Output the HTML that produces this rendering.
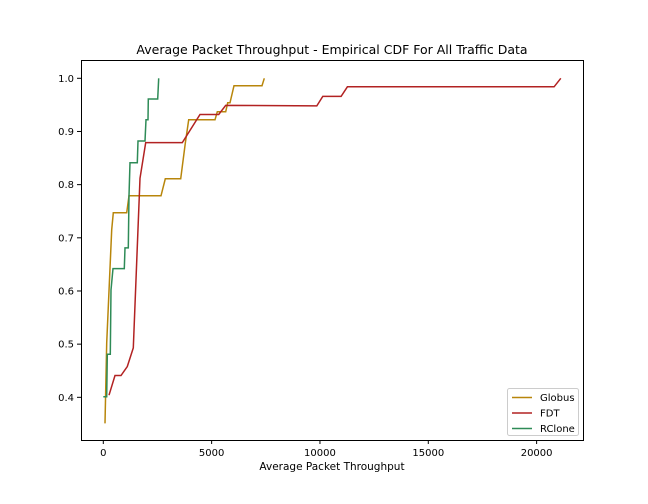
<!DOCTYPE html>
<html><head><meta charset="utf-8"><style>
body{margin:0;background:#fff;}
svg{display:block;font-family:"DejaVu Sans","Liberation Sans",sans-serif;}
</style></head><body>
<svg id="chart" width="648" height="504" viewBox="0 0 648 504"></svg>
<script>
const xTicks=[0,5000,10000,15000,20000];
const yTicks=[0.4,0.5,0.6,0.7,0.8,0.9,1.0];
const yTickLabels=["0.4","0.5","0.6","0.7","0.8","0.9","1.0"];
const seriesNames=["Globus","FDT","RClone"];
const globusX=[80,155,387,462,1080,1187,2664,2862,3573,3786,3941,5157,5263,5648,5743,5850,6034,7327,7433];
const globusY=[0.351,0.502,0.715,0.747,0.747,0.779,0.779,0.811,0.811,0.878,0.922,0.922,0.937,0.937,0.954,0.954,0.986,0.986,1.0];
const fdtX=[263,540,817,1108,1385,1694,1957,3647,4464,5328,5651,9852,10129,10974,11265,20808,21117];
const fdtY=[0.404,0.441,0.441,0.458,0.493,0.812,0.879,0.879,0.932,0.932,0.949,0.948,0.966,0.966,0.984,0.984,1.0];
const rcloneX=[0,155,185,323,355,448,970,1002,1155,1187,1233,1570,1602,1925,1971,2064,2078,2510,2556];
const rcloneY=[0.401,0.401,0.481,0.481,0.602,0.642,0.642,0.681,0.681,0.779,0.841,0.841,0.882,0.882,0.922,0.922,0.961,0.961,1.0];
const colors=["#b8860b","#b22222","#2e8b57"];

const L=81,R=583,T=60,B=440;
const xs=v=>103.3+v*0.021666;
const ys=v=>78.3+(1-v)*531.7;
const svg=document.getElementById('chart');
const NS="http://www.w3.org/2000/svg";
function mk(tag,attrs,parent){const e=document.createElementNS(NS,tag);for(const k in attrs)e.setAttribute(k,attrs[k]);(parent||svg).appendChild(e);return e;}

const title=mk('text',{x:332,y:54,'text-anchor':'middle','font-size':12.5,fill:'#000'});
title.textContent="Average Packet Throughput - Empirical CDF For All Traffic Data";



const series=[[globusX,globusY],[fdtX,fdtY],[rcloneX,rcloneY]];
series.forEach((s,i)=>{
  const pts=s[0].map((x,j)=>xs(x).toFixed(1)+","+ys(s[1][j]).toFixed(1)).join(" ");
  const pl=mk('polyline',{points:pts,fill:'none',stroke:colors[i],'stroke-width':1.5});
  
  
});

const frame=mk('rect',{x:L+0.5,y:T+0.5,width:R-L,height:B-T,fill:'none',stroke:'#000','stroke-width':1});



xTicks.forEach(v=>{
  const x=xs(v);
  mk('line',{x1:x,y1:B,x2:x,y2:B+4,stroke:'#000'});
  const t=mk('text',{x:x,y:B+16,'text-anchor':'middle','font-size':10,fill:'#000'});
  t.textContent=String(v);
  
  
});
yTicks.forEach((v,i)=>{
  const y=ys(v);
  mk('line',{x1:L-4,y1:y,x2:L,y2:y,stroke:'#000'});
  const t=mk('text',{x:L-7,y:y+3.5,'text-anchor':'end','font-size':10,fill:'#000'});
  t.textContent=yTickLabels[i];
  
  
});
const xl=mk('text',{x:332,y:470,'text-anchor':'middle','font-size':10.5,fill:'#000'});
xl.textContent="Average Packet Throughput";



const lg=mk('g',{});


mk('rect',{x:507.5,y:388.5,width:71,height:47,rx:2,fill:'#fff',stroke:'#ccc'},lg);
seriesNames.forEach((n,i)=>{
  const y=397.5+i*15.5;
  mk('line',{x1:512,y1:y,x2:532,y2:y,stroke:colors[i],'stroke-width':1.5},lg);
  const t=mk('text',{x:540,y:y+3.5,'font-size':10,fill:'#000'},lg);
  t.textContent=n;
  
  
});
</script>
</body></html>
